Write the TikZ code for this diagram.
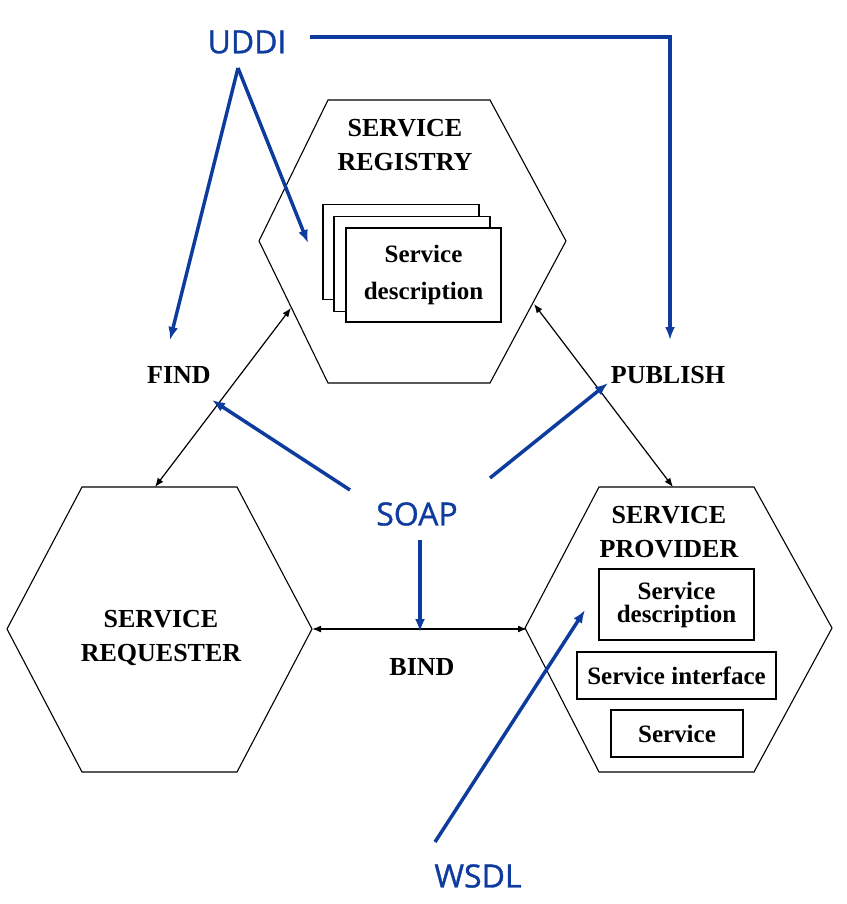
\documentclass[tikz,border=0pt]{standalone}
\usepackage{fontspec}
\setmainfont{Liberation Serif}
\newfontfamily\labelfont[FakeBold=1]{Open Sans}
\usetikzlibrary{arrows.meta}
\definecolor{wsblue}{RGB}{14,60,158}
\tikzset{
  hexa/.style={draw=black, line width=1.1pt},
  role/.style={align=center, font=\bfseries\fontsize{26}{34}\selectfont},
  action/.style={font=\bfseries\fontsize{26}{30}\selectfont},
  docbox/.style={draw, fill=white, line width=1.1pt, align=center, inner sep=0pt,
    font=\bfseries\fontsize{25}{23}\selectfont},
  link/.style={line width=1.2pt, {Latex[length=9pt,width=7pt]}-{Latex[length=9pt,width=7pt]}},
  std/.style={text=wsblue, font=\labelfont\fontsize{32}{36}\selectfont},
  pointer/.style={draw=wsblue, line width=3.5pt, -{Latex[length=13pt,width=10pt]}}
}
\begin{document}
\begin{tikzpicture}[x=1pt,y=-1pt]
  \useasboundingbox (0,0) rectangle (846,904);
  % the three roles
  \draw[hexa] (328,100) -- (490,100) -- (566,241) -- (490,383) -- (328,383) -- (259,241) -- cycle;
  \draw[hexa] (82,487) -- (237,487) -- (312,629) -- (237,772) -- (82,772) -- (7,629) -- cycle;
  \draw[hexa] (599,487) -- (754,487) -- (832,628) -- (754,772) -- (599,772) -- (525,628) -- cycle;
  \node[role] (registry) at (405,145) {SERVICE\\REGISTRY};
  \node[role] (requester) at (161,638) {SERVICE\\REQUESTER};
  \node[role] (provider) at (669,532) {SERVICE\\PROVIDER};
  % registry contents
  \node[docbox, minimum width=156pt, minimum height=95pt] (regback) at (401,252) {};
  \node[docbox, minimum width=156pt, minimum height=95pt] (regmid) at (412,264) {};
  \node[docbox, minimum width=155pt, minimum height=94pt, font=\bfseries\fontsize{25}{37}\selectfont] (regdesc) at (423.5,275) {Service\\description};
  % provider contents
  \node[docbox, minimum width=155pt, minimum height=71pt] (provdesc) at (676.5,604.5) {Service\\description};
  \node[docbox, minimum width=199pt, minimum height=47pt] (iface) at (676.5,675.5) {Service interface};
  \node[docbox, minimum width=132pt, minimum height=47pt] (service) at (677,733.5) {Service};
  % operations
  \coordinate (regFind) at (291,308);
  \coordinate (reqTop) at (155,487);
  \coordinate (regPub) at (534,304);
  \coordinate (provTop) at (673,487);
  \coordinate (reqRight) at (312,629);
  \coordinate (provLeft) at (527,629);
  \draw[link] (regFind) -- (reqTop);
  \draw[link] (regPub) -- (provTop);
  \draw[link, line width=1.6pt] (reqRight) -- (provLeft);
  \node[action] (find) at (179,375) {FIND};
  \node[action] (publish) at (668,375) {PUBLISH};
  \node[action] (bind) at (422,667) {BIND};
  % standards
  \node[std] (uddi) at (247,42) {UDDI};
  \node[std] (soap) at (417,514) {SOAP};
  \node[std] (wsdl) at (478,876) {WSDL};
  \coordinate (uddiFoot) at (238,68);
  \coordinate (uddiRight) at (310,37);
  \coordinate (findTip) at (170,340);
  \coordinate (regTip) at (308,243);
  \coordinate (pubTip) at (670,340);
  \draw[pointer] (uddiFoot) -- (findTip);
  \draw[pointer] (uddiFoot) -- (regTip);
  \draw[pointer] (uddiRight) -- (pubTip |- uddiRight) -- (pubTip);
  \coordinate (soapLeft) at (350,490);
  \coordinate (soapRight) at (490,478);
  \coordinate (soapFoot) at (420,540);
  \coordinate (findSoap) at (212,400);
  \coordinate (pubSoap) at (608,383);
  \coordinate (bindSoap) at (420,632);
  \draw[pointer] (soapLeft) -- (findSoap);
  \draw[pointer] (soapRight) -- (pubSoap);
  \draw[pointer] (soapFoot) -- (bindSoap);
  \coordinate (wsdlTop) at (435,842);
  \coordinate (provSoap) at (585,610);
  \draw[pointer] (wsdlTop) -- (provSoap);
\end{tikzpicture}
\end{document}
